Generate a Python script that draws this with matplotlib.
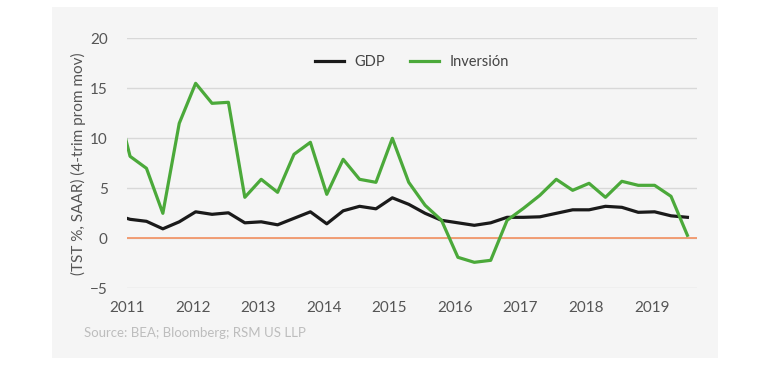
import numpy as np
import matplotlib
matplotlib.use("Agg")
import matplotlib.pyplot as plt
from matplotlib.patches import Rectangle

plt.rcParams['font.family'] = ['Lato', 'DejaVu Sans']

# quarterly data, first value is the quarter before 2011 (clipped by the axis)
START = 2010.796
gdp = [2.4, 1.9, 1.7, 0.95, 1.65, 2.65, 2.4, 2.55, 1.55, 1.65, 1.35, 2.0, 2.65,
       1.45, 2.75, 3.2, 2.95, 4.05, 3.4, 2.5, 1.8, 1.55, 1.3, 1.55, 2.1, 2.1,
       2.15, 2.5, 2.85, 2.85, 3.2, 3.1, 2.6, 2.65, 2.25, 2.1]
inversion = [14.7, 8.2, 7.0, 2.5, 11.5, 15.5, 13.5, 13.6, 4.1, 5.9, 4.6, 8.4, 9.6,
             4.4, 7.9, 5.9, 5.6, 10.0, 5.6, 3.3, 1.8, -1.9, -2.4, -2.2, 1.8, 3.0,
             4.3, 5.9, 4.8, 5.5, 4.1, 5.7, 5.3, 5.3, 4.2, 0.3]
years = list(range(2011, 2020))
yticks = [-5, 0, 5, 10, 15, 20]

t = START + 0.25 * np.arange(len(gdp))

fig = plt.figure(figsize=(7.7, 3.67), dpi=100)
fig.patches.append(Rectangle((0.0675, 0.0245), 0.865, 0.956, transform=fig.transFigure,
                             facecolor='#f5f5f5', edgecolor='none', zorder=-10))
ax = fig.add_axes([0.165, 0.2144, 0.74, 0.6812])
ax.set_facecolor('none')

ax.plot(t, gdp, color='#1a1a1a', lw=2.3, label='GDP', zorder=3)
ax.plot(t, inversion, color='#4ba93a', lw=2.3, label='Inversión', zorder=3)
ax.axhline(0, color='#f39060', lw=1.2, zorder=2)

ax.set_xlim(2011, 2019.69)
ax.set_ylim(-5, 20)
ax.set_yticks(yticks)
ax.set_xticks(years)
ax.set_xticklabels([str(y) for y in years])
ax.grid(axis='y', color='#d8d8d8', lw=1)
ax.set_axisbelow(True)
for s in ax.spines.values():
    s.set_visible(False)
ax.tick_params(length=0, labelsize=11, colors='#555555')
ax.tick_params(axis='y', pad=14)
ax.tick_params(axis='x', pad=9)
ax.set_ylabel('(TST %, SAAR) (4-trim prom mov)', fontsize=11, color='#555555', labelpad=3)

ax.legend(loc='upper center', bbox_to_anchor=(0.5, 0.985), ncol=2, frameon=False,
          fontsize=10.5, handlelength=2.0, handletextpad=0.7, columnspacing=1.7,
          labelcolor='#444444')

fig.text(0.109, 0.093, 'Source: BEA; Bloomberg; RSM US LLP', fontsize=9.5, color='#bdbdbd',
         va='center')

fig.savefig('out.png', dpi=100)
